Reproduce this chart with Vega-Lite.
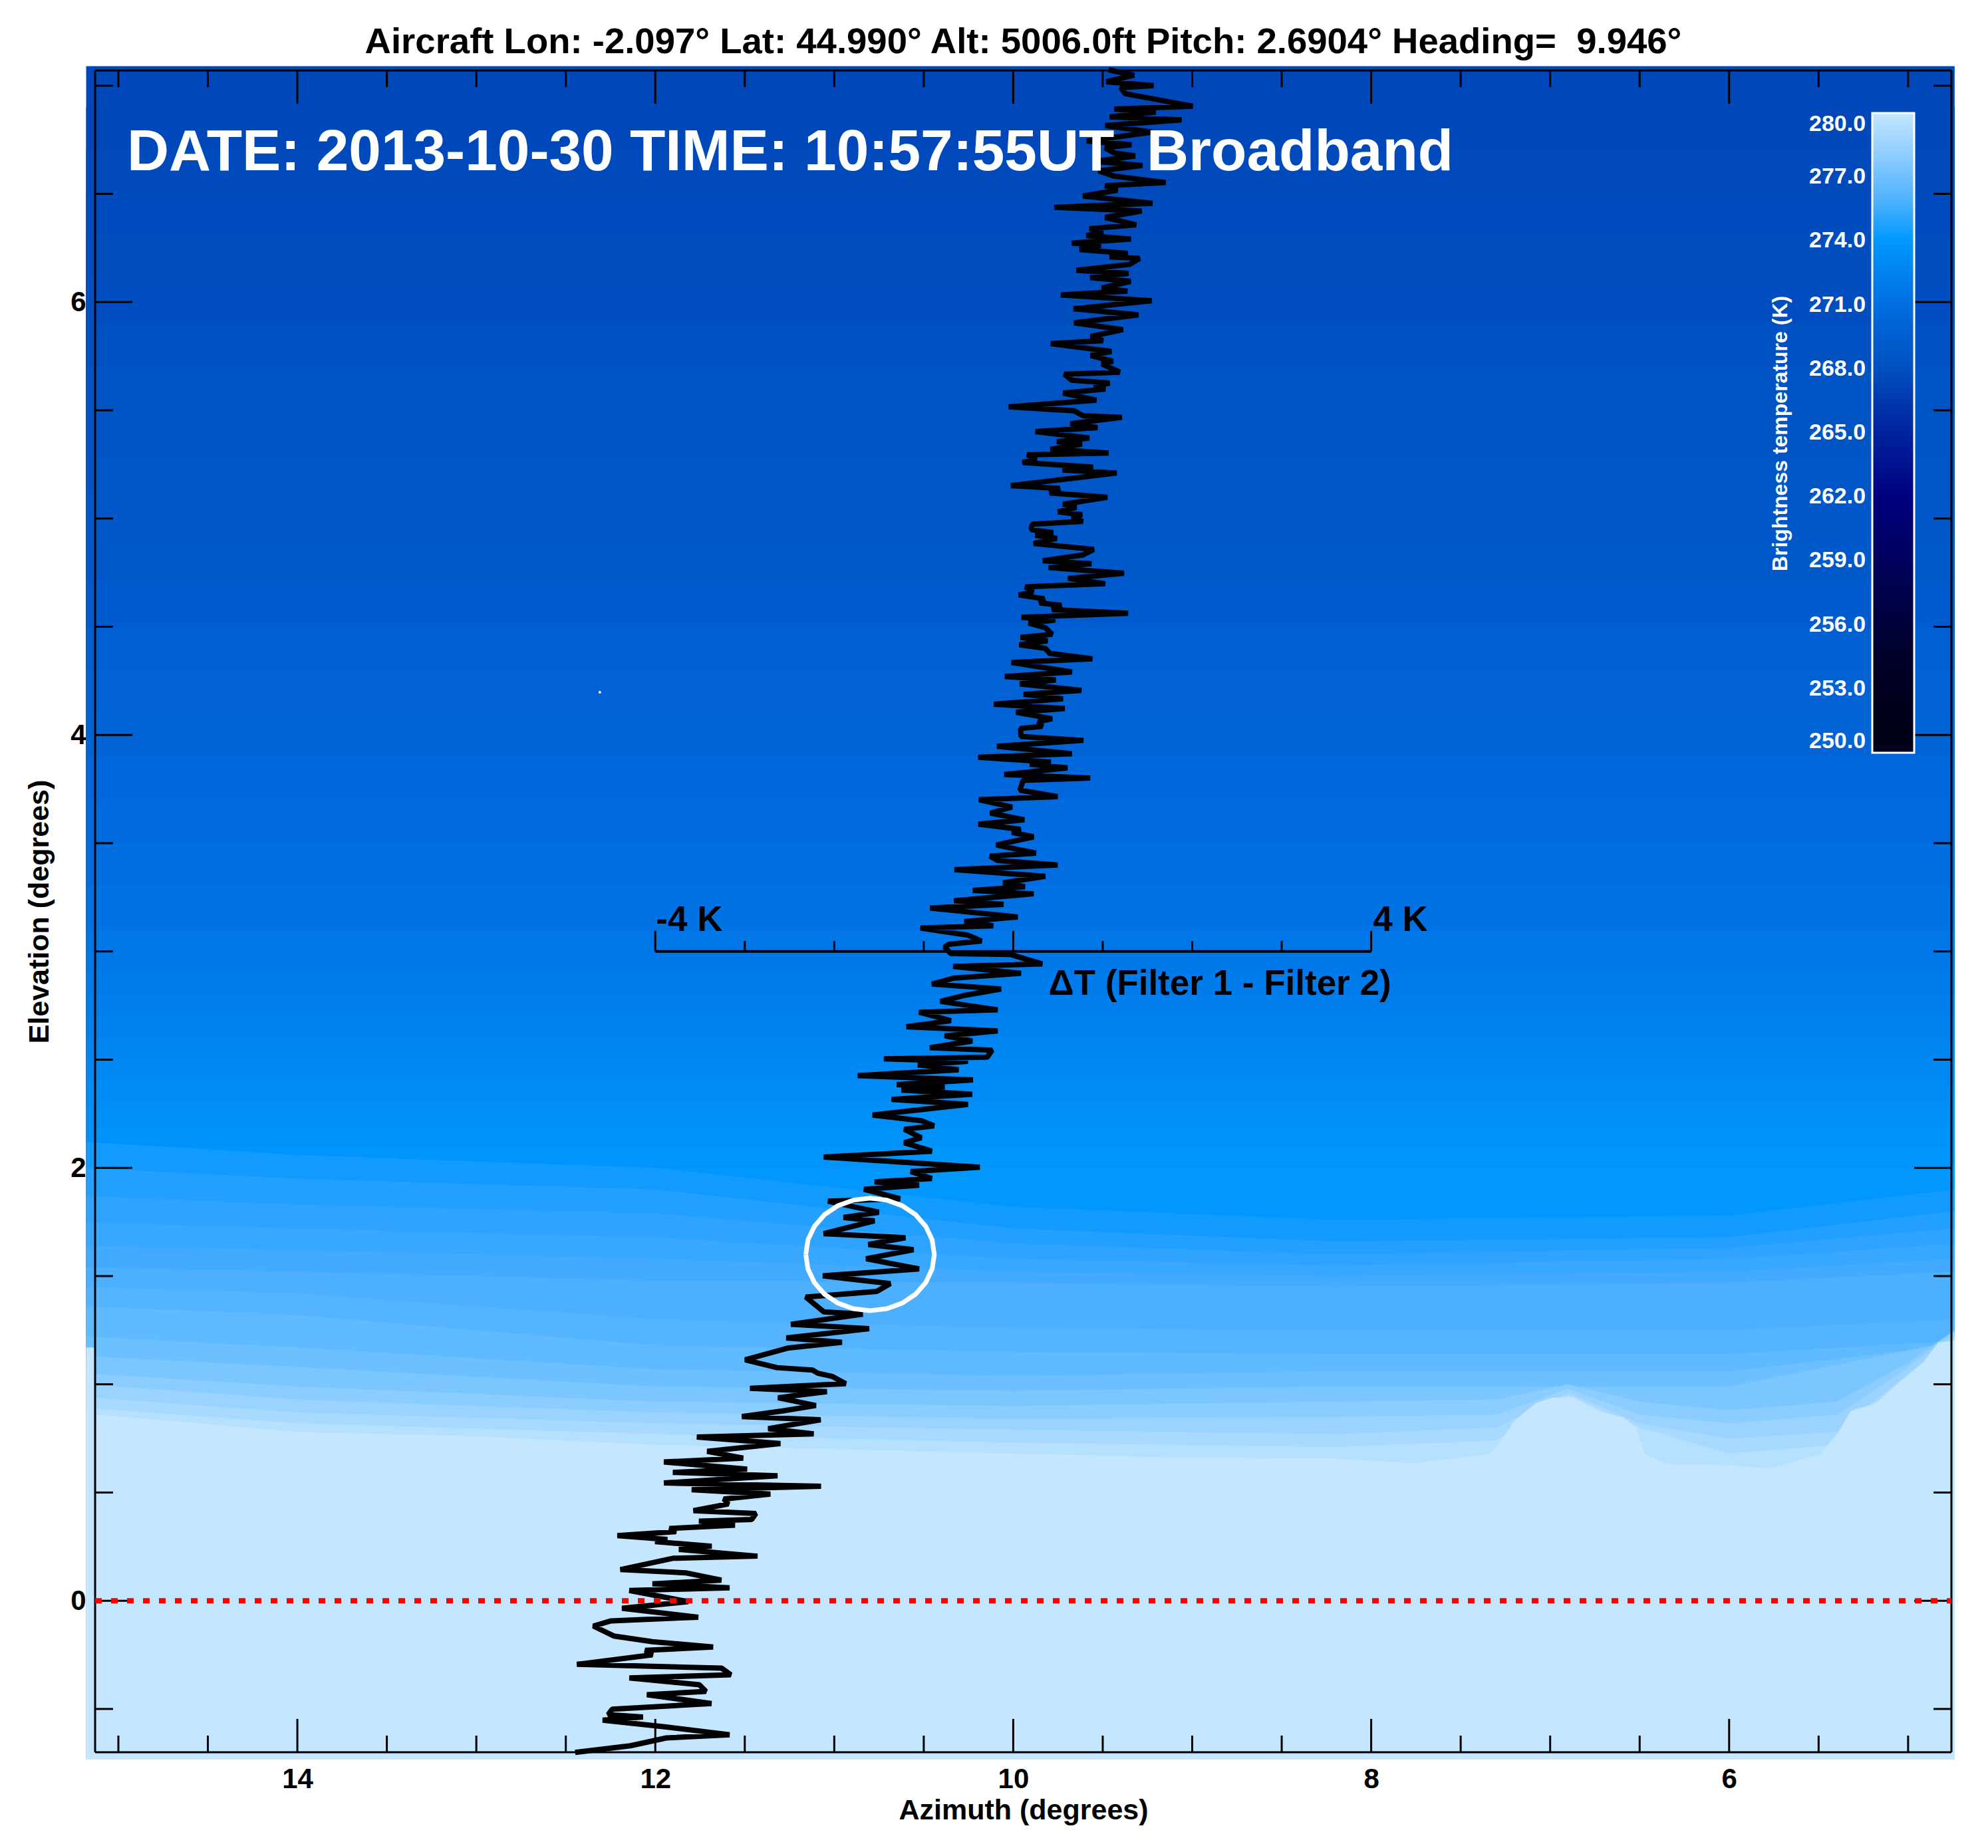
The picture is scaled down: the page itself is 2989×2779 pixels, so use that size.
{
"$schema":"https://vega.github.io/schema/vega-lite/v6.json",
"width":2791,"height":2529,
"autosize":"none",
"padding":{"left":143,"top":106,"right":55,"bottom":144},
"background":"white",
"title":{"text":"Aircraft Lon: -2.097° Lat: 44.990° Alt: 5006.0ft Pitch: 2.6904° Heading= \u00a09.946°","font":"Liberation Sans","fontWeight":"bold","fontSize":54.5,"color":"black","anchor":"middle","offset":8},
"datasets":{
"contours":[
{"a":15.18,"e":7.09,"t":267.4},{"a":4.74,"e":7.09,"t":267.4},{"a":15.18,"e":6.9,"t":267.5},{"a":4.74,"e":6.9,"t":267.5},{"a":15.18,"e":6.7,"t":267.6},{"a":4.74,"e":6.7,"t":267.6},{"a":15.18,"e":6.5,"t":267.7},{"a":4.74,"e":6.5,"t":267.7},{"a":15.18,"e":6.3,"t":267.8},{"a":4.74,"e":6.3,"t":267.8},{"a":15.18,"e":6.1,"t":267.9},{"a":4.74,"e":6.1,"t":267.9},{"a":15.18,"e":5.9,"t":268.1},{"a":4.74,"e":5.9,"t":268.1},{"a":15.18,"e":5.7,"t":268.3},{"a":4.74,"e":5.7,"t":268.3},{"a":15.18,"e":5.5,"t":268.4},{"a":4.74,"e":5.5,"t":268.4},{"a":15.18,"e":5.3,"t":268.6},{"a":4.74,"e":5.3,"t":268.6},{"a":15.18,"e":5.1,"t":268.8},{"a":4.74,"e":5.1,"t":268.8},{"a":15.18,"e":4.9,"t":269.0},{"a":4.74,"e":4.9,"t":269.0},{"a":15.18,"e":4.7,"t":269.3},{"a":4.74,"e":4.7,"t":269.3},{"a":15.18,"e":4.5,"t":269.6},{"a":4.74,"e":4.5,"t":269.6},{"a":15.18,"e":4.3,"t":269.9},{"a":4.74,"e":4.3,"t":269.9},{"a":15.18,"e":4.1,"t":270.2},{"a":4.74,"e":4.1,"t":270.2},{"a":15.18,"e":3.9,"t":270.6},{"a":4.74,"e":3.9,"t":270.6},{"a":15.18,"e":3.7,"t":270.8},{"a":4.74,"e":3.7,"t":270.8},{"a":15.18,"e":3.5,"t":271.1},{"a":4.74,"e":3.5,"t":271.1},{"a":15.18,"e":3.3,"t":271.4},{"a":4.74,"e":3.3,"t":271.4},{"a":15.18,"e":3.1,"t":271.7},{"a":4.74,"e":3.1,"t":271.7},{"a":15.18,"e":3.0,"t":271.8},{"a":4.74,"e":3.0,"t":271.8},{"a":15.18,"e":2.9,"t":272.0},{"a":4.74,"e":2.9,"t":272.0},{"a":15.18,"e":2.8,"t":272.2},{"a":4.74,"e":2.8,"t":272.2},{"a":15.18,"e":2.7,"t":272.4},{"a":4.74,"e":2.7,"t":272.4},{"a":15.18,"e":2.6,"t":272.7},{"a":4.74,"e":2.6,"t":272.7},{"a":15.18,"e":2.5,"t":272.9},{"a":4.74,"e":2.5,"t":272.9},{"a":15.18,"e":2.4,"t":273.1},{"a":4.74,"e":2.4,"t":273.1},{"a":15.18,"e":2.3,"t":273.4},{"a":4.74,"e":2.3,"t":273.4},{"a":15.18,"e":2.2,"t":273.6},{"a":4.74,"e":2.2,"t":273.6},{"a":15.18,"e":2.1,"t":273.8},{"a":4.74,"e":2.1,"t":273.8},{"a":15.18,"e":2.0,"t":274.0},{"a":4.74,"e":2.0,"t":274.0},
{"a":15.18,"e":2.12,"t":274.2},{"a":14,"e":2.06,"t":274.2},{"a":12,"e":2.0,"t":274.2},{"a":10,"e":1.82,"t":274.2},{"a":8.2,"e":1.76,"t":274.2},{"a":6,"e":1.78,"t":274.2},{"a":4.74,"e":1.9,"t":274.2},
{"a":15.18,"e":2.0,"t":274.5},{"a":14,"e":1.95,"t":274.5},{"a":12,"e":1.9,"t":274.5},{"a":10,"e":1.72,"t":274.5},{"a":8.2,"e":1.66,"t":274.5},{"a":6,"e":1.68,"t":274.5},{"a":4.74,"e":1.8,"t":274.5},
{"a":15.18,"e":1.87,"t":274.8},{"a":14,"e":1.83,"t":274.8},{"a":12,"e":1.79,"t":274.8},{"a":10,"e":1.65,"t":274.8},{"a":8.2,"e":1.6,"t":274.8},{"a":6,"e":1.63,"t":274.8},{"a":4.74,"e":1.72,"t":274.8},
{"a":15.18,"e":1.75,"t":275.1},{"a":14,"e":1.72,"t":275.1},{"a":12,"e":1.68,"t":275.1},{"a":10,"e":1.58,"t":275.1},{"a":8.2,"e":1.55,"t":275.1},{"a":6,"e":1.58,"t":275.1},{"a":4.74,"e":1.65,"t":275.1},
{"a":15.18,"e":1.64,"t":275.4},{"a":14,"e":1.62,"t":275.4},{"a":12,"e":1.58,"t":275.4},{"a":10,"e":1.52,"t":275.4},{"a":8.2,"e":1.5,"t":275.4},{"a":6,"e":1.52,"t":275.4},{"a":4.74,"e":1.58,"t":275.4},
{"a":15.18,"e":1.54,"t":275.8},{"a":14,"e":1.52,"t":275.8},{"a":12,"e":1.48,"t":275.8},{"a":10,"e":1.47,"t":275.8},{"a":8.2,"e":1.45,"t":275.8},{"a":6,"e":1.47,"t":275.8},{"a":4.74,"e":1.52,"t":275.8},
{"a":15.18,"e":1.45,"t":276.1},{"a":14,"e":1.42,"t":276.1},{"a":12,"e":1.3,"t":276.1},{"a":10,"e":1.26,"t":276.1},{"a":8.2,"e":1.25,"t":276.1},{"a":6,"e":1.25,"t":276.1},{"a":4.74,"e":1.3,"t":276.1},
{"a":15.18,"e":1.36,"t":276.5},{"a":14,"e":1.32,"t":276.5},{"a":12,"e":1.18,"t":276.5},{"a":10,"e":1.15,"t":276.5},{"a":8.2,"e":1.14,"t":276.5},{"a":6,"e":1.14,"t":276.5},{"a":4.74,"e":1.2,"t":276.5},
{"a":15.18,"e":1.22,"t":277},{"a":14,"e":1.17,"t":277},{"a":12,"e":1.07,"t":277},{"a":10,"e":1.04,"t":277},{"a":8.2,"e":1.06,"t":277},{"a":6,"e":1.06,"t":277},{"a":4.74,"e":1.18,"t":277},
{"a":15.18,"e":1.13,"t":277.5},{"a":14,"e":1.08,"t":277.5},{"a":12,"e":0.99,"t":277.5},{"a":10,"e":0.97,"t":277.5},{"a":8.2,"e":0.99,"t":277.5},{"a":6,"e":0.99,"t":277.5},{"a":4.74,"e":1.2,"t":277.5},
{"a":15.18,"e":1.05,"t":278},{"a":14,"e":0.99,"t":278},{"a":12,"e":0.92,"t":278},{"a":10,"e":0.9,"t":278},{"a":8.2,"e":0.92,"t":278},{"a":7.3,"e":0.93,"t":278},{"a":6.9,"e":1.0,"t":278},{"a":6.5,"e":0.92,"t":278},{"a":6,"e":0.88,"t":278},{"a":5.4,"e":0.92,"t":278},{"a":5,"e":1.1,"t":278},{"a":4.74,"e":1.25,"t":278},
{"a":15.18,"e":1.0,"t":278.5},{"a":14,"e":0.93,"t":278.5},{"a":12,"e":0.87,"t":278.5},{"a":10,"e":0.84,"t":278.5},{"a":8.2,"e":0.85,"t":278.5},{"a":7.3,"e":0.86,"t":278.5},{"a":6.9,"e":0.98,"t":278.5},{"a":6.5,"e":0.86,"t":278.5},{"a":6,"e":0.82,"t":278.5},{"a":5.4,"e":0.86,"t":278.5},{"a":5,"e":1.08,"t":278.5},{"a":4.74,"e":1.24,"t":278.5},
{"a":15.18,"e":0.94,"t":279},{"a":14,"e":0.87,"t":279},{"a":12,"e":0.82,"t":279},{"a":10,"e":0.79,"t":279},{"a":8.2,"e":0.77,"t":279},{"a":7.3,"e":0.8,"t":279},{"a":6.9,"e":0.96,"t":279},{"a":6.5,"e":0.82,"t":279},{"a":6,"e":0.75,"t":279},{"a":5.4,"e":0.78,"t":279},{"a":5,"e":1.05,"t":279},{"a":4.74,"e":1.22,"t":279},
{"a":15.18,"e":0.89,"t":279.5},{"a":14,"e":0.82,"t":279.5},{"a":12,"e":0.77,"t":279.5},{"a":10,"e":0.73,"t":279.5},{"a":8.2,"e":0.71,"t":279.5},{"a":7.3,"e":0.74,"t":279.5},{"a":6.9,"e":0.95,"t":279.5},{"a":6.5,"e":0.8,"t":279.5},{"a":6,"e":0.68,"t":279.5},{"a":5.4,"e":0.72,"t":279.5},{"a":5,"e":1.03,"t":279.5},{"a":4.74,"e":1.21,"t":279.5},
{"a":15.18,"e":1.17,"t":280},{"a":15.13,"e":1.17,"t":280},{"a":15.12,"e":0.86,"t":280},{"a":14,"e":0.78,"t":280},{"a":13,"e":0.76,"t":280},{"a":12,"e":0.72,"t":280},{"a":11,"e":0.7,"t":280},{"a":10,"e":0.68,"t":280},{"a":9,"e":0.66,"t":280},{"a":8.23,"e":0.657,"t":280},{"a":7.76,"e":0.636,"t":280},{"a":7.34,"e":0.677,"t":280},{"a":7.29,"e":0.718,"t":280},{"a":7.2,"e":0.831,"t":280},{"a":7.08,"e":0.913,"t":280},{"a":6.99,"e":0.938,"t":280},{"a":6.87,"e":0.938,"t":280},{"a":6.73,"e":0.877,"t":280},{"a":6.59,"e":0.846,"t":280},{"a":6.52,"e":0.8,"t":280},{"a":6.47,"e":0.677,"t":280},{"a":6.35,"e":0.631,"t":280},{"a":6,"e":0.626,"t":280},{"a":5.77,"e":0.611,"t":280},{"a":5.49,"e":0.677,"t":280},{"a":5.39,"e":0.78,"t":280},{"a":5.32,"e":0.877,"t":280},{"a":5.18,"e":0.913,"t":280},{"a":5.04,"e":1.015,"t":280},{"a":4.92,"e":1.097,"t":280},{"a":4.83,"e":1.194,"t":280},{"a":4.74,"e":1.2,"t":280}
],
"trace":[
{"a":9.467,"e":7.073},{"a":9.325,"e":7.048},{"a":9.48,"e":7.018},{"a":9.216,"e":7.0},{"a":9.399,"e":6.991},{"a":9.374,"e":6.963},{"a":8.997,"e":6.905},{"a":9.436,"e":6.892},{"a":9.204,"e":6.877},{"a":9.461,"e":6.856},{"a":9.059,"e":6.842},{"a":9.486,"e":6.816},{"a":9.226,"e":6.785},{"a":9.589,"e":6.744},{"a":9.34,"e":6.727},{"a":9.486,"e":6.713},{"a":9.436,"e":6.689},{"a":9.319,"e":6.675},{"a":9.542,"e":6.65},{"a":9.278,"e":6.631},{"a":9.523,"e":6.606},{"a":9.436,"e":6.582},{"a":9.149,"e":6.552},{"a":9.486,"e":6.538},{"a":9.418,"e":6.517},{"a":9.61,"e":6.49},{"a":9.222,"e":6.456},{"a":9.771,"e":6.438},{"a":9.282,"e":6.421},{"a":9.486,"e":6.391},{"a":9.313,"e":6.357},{"a":9.573,"e":6.339},{"a":9.498,"e":6.325},{"a":9.591,"e":6.307},{"a":9.343,"e":6.291},{"a":9.672,"e":6.273},{"a":9.511,"e":6.261},{"a":9.629,"e":6.243},{"a":9.36,"e":6.225},{"a":9.461,"e":6.209},{"a":9.294,"e":6.202},{"a":9.35,"e":6.174},{"a":9.647,"e":6.147},{"a":9.356,"e":6.133},{"a":9.57,"e":6.113},{"a":9.344,"e":6.096},{"a":9.505,"e":6.065},{"a":9.362,"e":6.051},{"a":9.734,"e":6.033},{"a":9.226,"e":6.006},{"a":9.663,"e":5.969},{"a":9.3,"e":5.941},{"a":9.66,"e":5.904},{"a":9.387,"e":5.873},{"a":9.567,"e":5.841},{"a":9.498,"e":5.822},{"a":9.79,"e":5.808},{"a":9.451,"e":5.772},{"a":9.567,"e":5.753},{"a":9.443,"e":5.726},{"a":9.505,"e":5.715},{"a":9.405,"e":5.676},{"a":9.715,"e":5.667},{"a":9.672,"e":5.639},{"a":9.461,"e":5.626},{"a":9.548,"e":5.612},{"a":9.486,"e":5.598},{"a":9.721,"e":5.58},{"a":9.536,"e":5.547},{"a":10.025,"e":5.516},{"a":9.66,"e":5.498},{"a":9.61,"e":5.475},{"a":9.393,"e":5.468},{"a":9.681,"e":5.438},{"a":9.529,"e":5.42},{"a":9.876,"e":5.402},{"a":9.575,"e":5.372},{"a":9.756,"e":5.355},{"a":9.616,"e":5.344},{"a":9.792,"e":5.32},{"a":9.467,"e":5.303},{"a":9.922,"e":5.294},{"a":9.87,"e":5.276},{"a":9.948,"e":5.259},{"a":9.554,"e":5.237},{"a":9.725,"e":5.224},{"a":9.422,"e":5.21},{"a":10.013,"e":5.152},{"a":9.74,"e":5.139},{"a":9.796,"e":5.118},{"a":9.474,"e":5.098},
{"a":9.722,"e":5.066},{"a":9.647,"e":5.052},{"a":9.749,"e":5.031},{"a":9.616,"e":5.018},{"a":9.672,"e":5.0},{"a":9.61,"e":4.987},{"a":9.893,"e":4.974},{"a":9.901,"e":4.949},{"a":9.777,"e":4.935},{"a":9.876,"e":4.922},{"a":9.756,"e":4.908},{"a":9.886,"e":4.885},{"a":9.55,"e":4.857},{"a":9.61,"e":4.832},{"a":9.835,"e":4.805},{"a":9.563,"e":4.791},{"a":9.802,"e":4.773},{"a":9.381,"e":4.747},{"a":9.694,"e":4.723},{"a":9.486,"e":4.699},{"a":9.932,"e":4.684},{"a":9.889,"e":4.661},{"a":9.969,"e":4.647},{"a":9.827,"e":4.629},{"a":9.852,"e":4.61},{"a":9.731,"e":4.599},{"a":9.783,"e":4.579},{"a":9.358,"e":4.562},{"a":9.954,"e":4.544},{"a":9.765,"e":4.531},{"a":9.914,"e":4.517},{"a":9.821,"e":4.496},{"a":9.783,"e":4.465},{"a":9.959,"e":4.451},{"a":9.808,"e":4.435},{"a":9.966,"e":4.417},{"a":9.821,"e":4.4},{"a":9.796,"e":4.377},{"a":9.558,"e":4.352},{"a":10.01,"e":4.335},{"a":9.672,"e":4.291},{"a":10.047,"e":4.27},{"a":9.762,"e":4.254},{"a":9.963,"e":4.236},{"a":9.619,"e":4.206},{"a":9.942,"e":4.188},{"a":9.722,"e":4.167},{"a":10.108,"e":4.142},{"a":9.712,"e":4.122},{"a":9.984,"e":4.105},{"a":9.783,"e":4.075},{"a":9.858,"e":4.062},{"a":9.839,"e":4.04},{"a":9.959,"e":4.03},{"a":9.957,"e":3.993},{"a":9.608,"e":3.975},{"a":10.091,"e":3.948},{"a":9.672,"e":3.913},{"a":10.196,"e":3.897},{"a":9.79,"e":3.875},{"a":9.907,"e":3.865},{"a":9.697,"e":3.848},{"a":10.05,"e":3.817},{"a":9.57,"e":3.801},{"a":9.945,"e":3.79},{"a":9.963,"e":3.745},{"a":9.752,"e":3.715},{"a":10.192,"e":3.701},{"a":10.007,"e":3.667},{"a":10.128,"e":3.639},{"a":9.938,"e":3.608},{"a":10.195,"e":3.588},{"a":9.959,"e":3.564},{"a":10.006,"e":3.55},{"a":9.886,"e":3.529},{"a":10.095,"e":3.492},{"a":9.873,"e":3.454},{"a":10.13,"e":3.44},{"a":10.087,"e":3.42},{"a":9.752,"e":3.399},{"a":10.329,"e":3.378},{"a":9.821,"e":3.347},{"a":10.056,"e":3.317},{"a":9.935,"e":3.299},{"a":10.226,"e":3.282},{"a":9.886,"e":3.266},{"a":10.331,"e":3.234},{"a":10.054,"e":3.217},{"a":10.465,"e":3.2},{"a":9.975,"e":3.159},{"a":10.273,"e":3.138},{"a":10.112,"e":3.118},
{"a":10.519,"e":3.108},{"a":10.253,"e":3.075},{"a":10.177,"e":3.048},{"a":10.36,"e":3.033},{"a":10.383,"e":3.02},{"a":10.348,"e":2.99},{"a":10.016,"e":2.986},{"a":9.838,"e":2.942},{"a":10.336,"e":2.931},{"a":9.957,"e":2.899},{"a":10.336,"e":2.876},{"a":10.454,"e":2.849},{"a":10.068,"e":2.826},{"a":10.265,"e":2.798},{"a":10.407,"e":2.769},{"a":10.087,"e":2.73},{"a":10.526,"e":2.719},{"a":10.348,"e":2.68},{"a":10.597,"e":2.652},{"a":10.087,"e":2.633},{"a":10.383,"e":2.61},{"a":10.229,"e":2.586},{"a":10.466,"e":2.555},{"a":10.118,"e":2.544},{"a":10.146,"e":2.511},{"a":10.723,"e":2.504},{"a":10.253,"e":2.492},{"a":10.533,"e":2.476},{"a":10.305,"e":2.453},{"a":10.869,"e":2.426},{"a":10.225,"e":2.406},{"a":10.651,"e":2.385},{"a":10.383,"e":2.374},{"a":10.625,"e":2.359},{"a":10.229,"e":2.34},{"a":10.68,"e":2.316},{"a":10.253,"e":2.293},{"a":10.786,"e":2.244},{"a":10.514,"e":2.218},{"a":10.443,"e":2.194},{"a":10.609,"e":2.178},{"a":10.514,"e":2.139},{"a":10.609,"e":2.116},{"a":10.455,"e":2.077},{"a":11.059,"e":2.05},{"a":10.187,"e":2.003},{"a":10.573,"e":1.983},{"a":10.455,"e":1.951},{"a":10.775,"e":1.935},{"a":10.526,"e":1.92},{"a":10.834,"e":1.901},{"a":10.632,"e":1.857},{"a":11.035,"e":1.846},{"a":10.751,"e":1.795},{"a":10.948,"e":1.771},{"a":10.775,"e":1.755},{"a":11.059,"e":1.696},{"a":10.602,"e":1.677},{"a":10.81,"e":1.646},{"a":10.557,"e":1.622},{"a":10.822,"e":1.58},{"a":10.526,"e":1.533},{"a":11.064,"e":1.501},{"a":10.687,"e":1.465},{"a":10.763,"e":1.429},{"a":11.159,"e":1.403},{"a":11.059,"e":1.335},{"a":10.841,"e":1.324},{"a":11.242,"e":1.277},{"a":10.805,"e":1.257},{"a":11.268,"e":1.214},{"a":10.957,"e":1.194},{"a":11.261,"e":1.167},{"a":11.498,"e":1.113},
{"a":11.32,"e":1.077},{"a":11.122,"e":1.066},{"a":11.091,"e":1.051},{"a":11.01,"e":1.036},{"a":10.936,"e":1.003},{"a":11.471,"e":0.981},{"a":11.041,"e":0.966},{"a":11.314,"e":0.938},{"a":11.103,"e":0.902},{"a":11.289,"e":0.877},{"a":11.516,"e":0.851},{"a":11.076,"e":0.836},{"a":11.369,"e":0.795},{"a":11.115,"e":0.771},{"a":11.768,"e":0.756},{"a":11.301,"e":0.726},{"a":11.71,"e":0.69},{"a":11.509,"e":0.659},{"a":11.952,"e":0.641},{"a":11.487,"e":0.608},{"a":11.902,"e":0.593},{"a":11.317,"e":0.577},{"a":11.952,"e":0.544},{"a":11.074,"e":0.529},{"a":11.797,"e":0.513},{"a":11.357,"e":0.493},{"a":11.617,"e":0.47},{"a":11.592,"e":0.447},{"a":11.787,"e":0.416},{"a":11.438,"e":0.403},{"a":11.462,"e":0.375},{"a":11.756,"e":0.368},{"a":11.555,"e":0.349},{"a":11.921,"e":0.334},{"a":11.884,"e":0.319},{"a":12.212,"e":0.301},{"a":11.933,"e":0.283},{"a":12.001,"e":0.273},{"a":11.685,"e":0.252},{"a":11.868,"e":0.237},{"a":11.429,"e":0.206},{"a":11.902,"e":0.196},
{"a":12.195,"e":0.144},{"a":11.831,"e":0.129},{"a":11.631,"e":0.095},{"a":12.016,"e":0.078},{"a":11.585,"e":0.06},{"a":12.145,"e":0.047},{"a":11.816,"e":-0.004},{"a":12.186,"e":-0.035},{"a":11.76,"e":-0.076},{"a":12.247,"e":-0.093},{"a":12.346,"e":-0.117},{"a":12.232,"e":-0.163},{"a":12.016,"e":-0.189},{"a":11.677,"e":-0.214},{"a":12.056,"e":-0.229},{"a":12.016,"e":-0.25},{"a":12.438,"e":-0.294},{"a":11.631,"e":-0.311},{"a":11.578,"e":-0.342},{"a":12.145,"e":-0.357},{"a":11.754,"e":-0.388},{"a":11.717,"e":-0.419},{"a":12.047,"e":-0.434},{"a":11.686,"e":-0.475},{"a":12.241,"e":-0.501},{"a":12.263,"e":-0.526},{"a":12.069,"e":-0.537},{"a":12.294,"e":-0.552},{"a":11.939,"e":-0.583},{"a":11.585,"e":-0.619},{"a":11.939,"e":-0.634},{"a":12.139,"e":-0.67},{"a":12.448,"e":-0.701}
],
"ellipse":[{"a":11.159,"e":1.6},{"a":11.147,"e":1.667},{"a":11.111,"e":1.73},{"a":11.054,"e":1.784},{"a":10.98,"e":1.825},{"a":10.893,"e":1.851},{"a":10.8,"e":1.86},{"a":10.707,"e":1.851},{"a":10.62,"e":1.825},{"a":10.546,"e":1.784},{"a":10.489,"e":1.73},{"a":10.453,"e":1.667},{"a":10.441,"e":1.6},{"a":10.453,"e":1.533},{"a":10.489,"e":1.47},{"a":10.546,"e":1.416},{"a":10.62,"e":1.375},{"a":10.707,"e":1.349},{"a":10.8,"e":1.34},{"a":10.893,"e":1.349},{"a":10.98,"e":1.375},{"a":11.054,"e":1.416},{"a":11.111,"e":1.47},{"a":11.147,"e":1.533},{"a":11.159,"e":1.6}],
"xticks":[{"a":15,"b":-0.623,"t":6.993},{"a":14.5,"b":-0.623,"t":6.993},{"a":14,"b":-0.546,"t":6.916},{"a":13.5,"b":-0.623,"t":6.993},{"a":13,"b":-0.623,"t":6.993},{"a":12.5,"b":-0.623,"t":6.993},{"a":12,"b":-0.546,"t":6.916},{"a":11.5,"b":-0.623,"t":6.993},{"a":11,"b":-0.623,"t":6.993},{"a":10.5,"b":-0.623,"t":6.993},{"a":10,"b":-0.546,"t":6.916},{"a":9.5,"b":-0.623,"t":6.993},{"a":9,"b":-0.623,"t":6.993},{"a":8.5,"b":-0.623,"t":6.993},{"a":8,"b":-0.546,"t":6.916},{"a":7.5,"b":-0.623,"t":6.993},{"a":7,"b":-0.623,"t":6.993},{"a":6.5,"b":-0.623,"t":6.993},{"a":6,"b":-0.546,"t":6.916},{"a":5.5,"b":-0.623,"t":6.993},{"a":5,"b":-0.623,"t":6.993}],
"yticks":[{"e":-0.5,"l":15.03,"r":4.858},{"e":0,"l":14.922,"r":4.966},{"e":0.5,"l":15.03,"r":4.858},{"e":1,"l":15.03,"r":4.858},{"e":1.5,"l":15.03,"r":4.858},{"e":2,"l":14.922,"r":4.966},{"e":2.5,"l":15.03,"r":4.858},{"e":3,"l":15.03,"r":4.858},{"e":3.5,"l":15.03,"r":4.858},{"e":4,"l":14.922,"r":4.966},{"e":4.5,"l":15.03,"r":4.858},{"e":5,"l":15.03,"r":4.858},{"e":5.5,"l":15.03,"r":4.858},{"e":6,"l":14.922,"r":4.966},{"e":6.5,"l":15.03,"r":4.858},{"e":7,"l":15.03,"r":4.858}],
"scalebar":[{"a":12,"e":3.095},{"a":11.5,"e":3.048},{"a":11,"e":3.048},{"a":10.5,"e":3.048},{"a":10,"e":3.095},{"a":9.5,"e":3.048},{"a":9,"e":3.048},{"a":8.5,"e":3.048},{"a":8,"e":3.095}],
"labels":[{"a":11.996,"e":3.095,"s":"-4 K"},{"a":7.99,"e":3.095,"s":"4 K"},{"a":9.803,"e":2.799,"s":"ΔT (Filter 1 - Filter 2)"}],
"barticks":[{"e":6.725,"l":5.174,"r":4.992},{"e":6.577,"l":5.152,"r":5.015},{"e":6.43,"l":5.174,"r":4.992},{"e":6.282,"l":5.152,"r":5.015},{"e":6.134,"l":5.174,"r":4.992},{"e":5.986,"l":5.152,"r":5.015},{"e":5.838,"l":5.174,"r":4.992},{"e":5.691,"l":5.152,"r":5.015},{"e":5.543,"l":5.174,"r":4.992},{"e":5.395,"l":5.152,"r":5.015},{"e":5.247,"l":5.174,"r":4.992},{"e":5.099,"l":5.152,"r":5.015},{"e":4.952,"l":5.174,"r":4.992},{"e":4.804,"l":5.152,"r":5.015},{"e":4.656,"l":5.174,"r":4.992},{"e":4.508,"l":5.152,"r":5.015},{"e":4.36,"l":5.174,"r":4.992},{"e":4.213,"l":5.152,"r":5.015},{"e":4.065,"l":5.174,"r":4.992}]
},
"encoding":{
"x":{"field":"a","type":"quantitative","scale":{"domain":[15.13,4.758],"nice":false,"zero":false},
"axis":{"values":[14,12,10,8,6],"format":"d","grid":false,"ticks":false,"domainColor":"black","domainWidth":3,"labelFont":"Liberation Sans","labelFontWeight":"bold","labelFontSize":42,"labelColor":"black","labelPadding":20,"title":"Azimuth (degrees)","titleFont":"Liberation Sans","titleFontWeight":"bold","titleFontSize":43,"titleColor":"black","titlePadding":5}},
"y":{"field":"e","type":"quantitative","scale":{"domain":[-0.7,7.07],"nice":false,"zero":false},
"axis":{"values":[0,2,4,6],"format":"d","grid":false,"ticks":false,"domainColor":"black","domainWidth":3,"labelFont":"Liberation Sans","labelFontWeight":"bold","labelFontSize":42,"labelColor":"black","labelPadding":14,"title":"Elevation (degrees)","titleFont":"Liberation Sans","titleFontWeight":"bold","titleFontSize":43,"titleColor":"black","titlePadding":24}}
},
"layer":[
{"data":{"name":"contours"},"mark":{"type":"area","order":false},"encoding":{"y2":{"datum":-0.734},"detail":{"field":"t"},"color":{"field":"t","type":"quantitative",
"scale":{"domain":[250,253,256,259,262,265,268,271,274,277,280],"range":["#000000","#00001c","#00003a","#00005c","#000080","#00209c","#0050c0","#006ce0","#0098ff","#6cc0ff","#c4e6ff"]},
"legend":{"orient":"none","legendX":2518,"legendY":64,"direction":"vertical","values":[250,253,256,259,262,265,268,271,274,277,280],"format":".1f","gradientLength":962,"gradientThickness":63,"gradientStrokeColor":"white","gradientStrokeWidth":3,"labelColor":"white","labelFont":"Liberation Sans","labelFontWeight":"bold","labelFontSize":34,"labelOffset":-158,"labelOverlap":false,"title":"Brightness temperature (K)","titleOrient":"left","titleAngle":270,"titleAnchor":"middle","titleLimit":800,"titleColor":"white","titleFont":"Liberation Sans","titleFontWeight":"bold","titleFontSize":32,"titlePadding":120}}}},
{"data":{"name":"xticks"},"mark":{"type":"rule","color":"black","strokeWidth":3},"encoding":{"y":{"field":"b"},"y2":{"datum":-0.7}}},
{"data":{"name":"xticks"},"mark":{"type":"rule","color":"black","strokeWidth":3},"encoding":{"y":{"field":"t"},"y2":{"datum":7.07}}},
{"data":{"name":"yticks"},"mark":{"type":"rule","color":"black","strokeWidth":3},"encoding":{"x":{"field":"l"},"x2":{"datum":15.13}}},
{"data":{"name":"yticks"},"mark":{"type":"rule","color":"black","strokeWidth":3},"encoding":{"x":{"field":"r"},"x2":{"datum":4.758}}},
{"data":{"values":[{"a":15.13,"e":7.07}]},"mark":{"type":"rule","color":"black","strokeWidth":3},"encoding":{"x2":{"datum":4.758}}},
{"data":{"values":[{"a":4.758,"e":-0.7}]},"mark":{"type":"rule","color":"black","strokeWidth":3},"encoding":{"y2":{"datum":7.07}}},
{"data":{"values":[{"a":15.13,"e":-0.7}]},"mark":{"type":"rule","color":"black","strokeWidth":3},"encoding":{"x2":{"datum":4.758}}},
{"data":{"values":[{"a":15.13,"e":-0.7}]},"mark":{"type":"rule","color":"black","strokeWidth":3},"encoding":{"y2":{"datum":7.07}}},
{"data":{"values":[{"a":12,"e":3}]},"mark":{"type":"rule","color":"black","strokeWidth":4},"encoding":{"x2":{"datum":8}}},
{"data":{"name":"scalebar"},"mark":{"type":"rule","color":"black","strokeWidth":3},"encoding":{"y2":{"datum":3}}},
{"data":{"name":"trace"},"mark":{"type":"line","order":false,"color":"black","strokeWidth":8,"strokeJoin":"bevel"}},
{"data":{"name":"ellipse"},"mark":{"type":"line","order":false,"color":"white","strokeWidth":7}},
{"data":{"values":[{"a":15.13,"e":0}]},"mark":{"type":"rule","color":"#ff0000","strokeWidth":8,"strokeDash":[10,14]},"encoding":{"x2":{"datum":4.758}}},
{"data":{"values":[{"a":12.31,"e":4.197}]},"mark":{"type":"point","filled":true,"color":"white","size":16,"opacity":1}},
{"data":{"name":"labels"},"mark":{"type":"text","align":"left","baseline":"alphabetic","font":"Liberation Sans","fontWeight":"bold","fontSize":53,"color":"black"},"encoding":{"text":{"field":"s"}}},
{"data":{"values":[{"a":14.952,"e":6.608,"s":"DATE: 2013-10-30 TIME: 10:57:55UT \u00a0Broadband"}]},"mark":{"type":"text","align":"left","baseline":"alphabetic","font":"Liberation Sans","fontWeight":"bold","fontSize":87.4,"color":"white"},"encoding":{"text":{"field":"s"}}},
{"data":{"name":"barticks"},"mark":{"type":"rule","color":"white","strokeWidth":2},"encoding":{"x":{"field":"l"},"x2":{"datum":5.197}}},
{"data":{"name":"barticks"},"mark":{"type":"rule","color":"white","strokeWidth":2},"encoding":{"x":{"field":"r"},"x2":{"datum":4.963}}}
],
"config":{"view":{"stroke":null}}
}
